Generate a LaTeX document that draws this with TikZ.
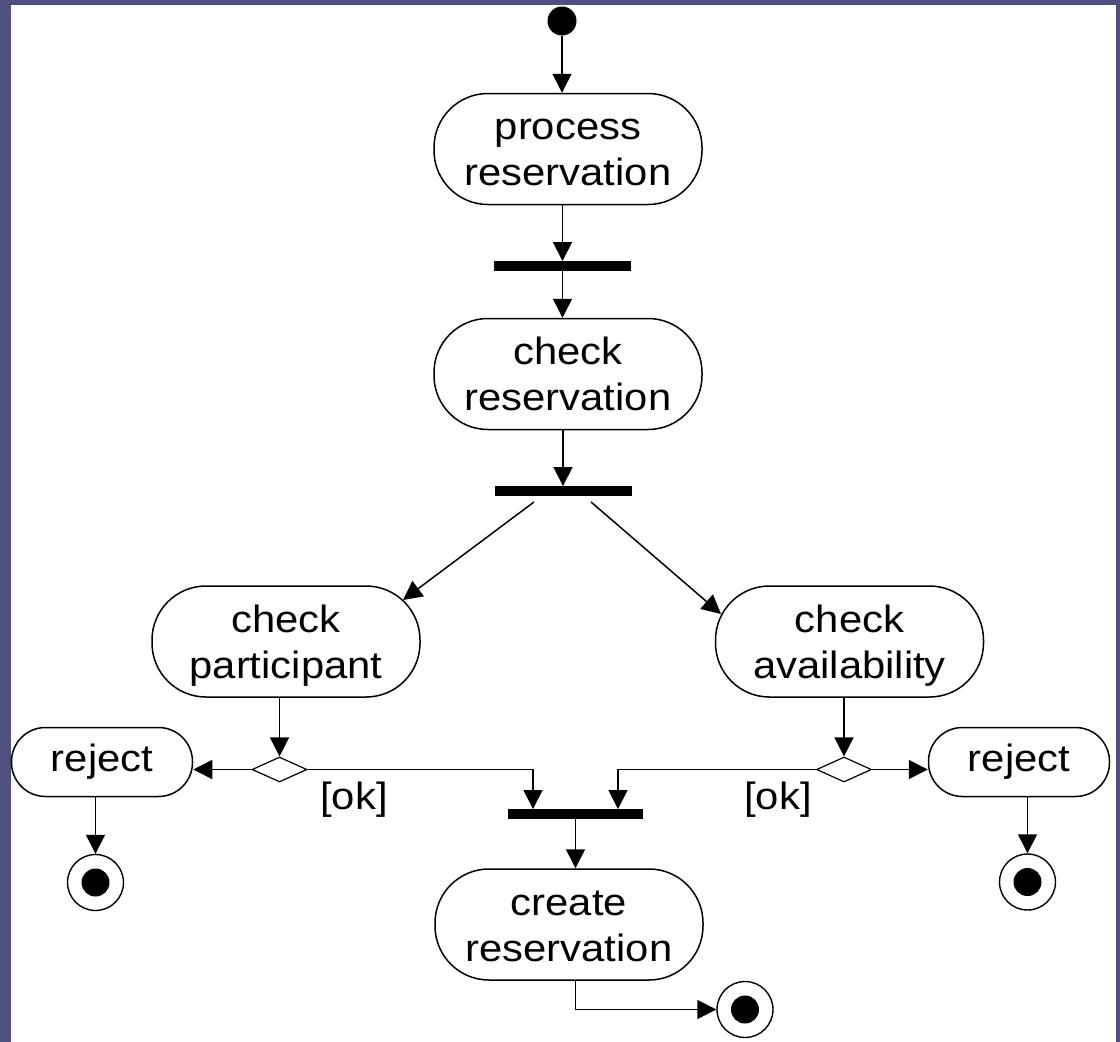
\documentclass[tikz,border=0pt]{standalone}
\usepackage{fontspec}
\setmainfont{Liberation Sans}[FakeStretch=1.1]
\usetikzlibrary{arrows.meta,shapes.geometric,calc}
\definecolor{slide}{HTML}{50507E}
% two centred lines, block lowered slightly inside the box
\newcommand\twolines[2]{\rule{0pt}{41pt}#1\\\strut #2}
\newcommand\lowered[1]{\raisebox{-3pt}{#1}}
\begin{document}
\begin{tikzpicture}[x=1pt,y=-1pt,
  txt/.style={font=\fontsize{38}{46}\selectfont},
  action/.style={txt, draw, line width=1.5pt, rounded corners=54pt,
    minimum width=268pt, minimum height=111pt, inner sep=0pt, align=center},
  smallaction/.style={txt, draw, line width=1.5pt, rounded corners=34pt,
    minimum width=181pt, minimum height=69pt, inner sep=0pt},
  syncbar/.style={fill=black, minimum width=137pt, minimum height=9.5pt, inner sep=0pt},
  choice/.style={draw, diamond, line width=1.2pt, minimum width=55pt,
    minimum height=25pt, inner sep=0pt},
  startnode/.style={circle, fill=black, minimum size=29pt, inner sep=0pt},
  endnode/.style={circle, draw, line width=1.4pt, minimum size=56pt, inner sep=0pt,
    path picture={\fill (path picture bounding box.center) circle (14pt);}},
  arr/.style={-{Triangle[length=19pt,width=19pt]}, line width=1.5pt},
  guard/.style={txt, inner sep=0pt}]

% slide frame and white page
\fill[slide] (0,0) rectangle (1120,1042);
\fill[white] (11,5) rectangle (1116,1042);
\useasboundingbox (0,0) rectangle (1120,1042);

% nodes
\node[startnode] (init) at (562,21) {};
\node[action] (proc) at (568,149) {\twolines{process}{reservation}};
\node[syncbar] (bar1) at (562.5,266) {};
\node[action] (chkres) at (568,374) {\twolines{check}{reservation}};
\node[syncbar] (bar2) at (563,491) {};
\node[action] (cpart) at (286,641.5) {\twolines{check}{participant}};
\node[action] (cavail) at (849.5,641.5) {\twolines{check}{availability}};
\node[choice] (dleft) at (279.5,769.5) {};
\node[choice] (dright) at (844,769.5) {};
\node[smallaction] (rejL) at (102,762) {\lowered{reject}};
\node[smallaction] (rejR) at (1019,762) {\lowered{reject}};
\node[endnode] (finL) at (95.5,882.5) {};
\node[endnode] (finR) at (1027.5,882) {};
\node[syncbar, minimum width=135pt] (bar3) at (575.5,814) {};
\node[action] (create) at (569,924.5) {\twolines{create}{reservation}};
\node[endnode] (fin3) at (745,1009.5) {};
\node[guard] (okL) at (354,800) {[ok]};
\node[guard] (okR) at (778,800) {[ok]};

% points where the fork arrows meet the rounded boxes
\coordinate (forkL) at ($(bar2.south)+(-29,6)$);
\coordinate (forkR) at ($(bar2.south)+(28,6)$);
\coordinate (hitL) at (403,600);
\coordinate (hitR) at (721,614);
\coordinate (joinL) at ($(bar3.north)+(-42.5,0)$);
\coordinate (joinR) at ($(bar3.north)+(42.5,0)$);

% connectors
\draw[arr] (init) -- (init |- proc.north);
\draw[arr] (bar1 |- proc.south) -- (bar1.north);
\draw[arr] (bar1.south) -- (bar1.south |- chkres.north);
\draw[arr] (bar2 |- chkres.south) -- (bar2.north);
\draw[arr] (forkL) -- (hitL);
\draw[arr] (forkR) -- (hitR);
\draw[arr] (dleft |- cpart.south) -- (dleft.north);
\draw[arr] (dright |- cavail.south) -- (dright.north);
\draw[arr] (dleft.west) -- (dleft.west -| rejL.east);
\draw[arr] (dright.east) -- (dright.east -| rejR.west);
\draw[arr] (finL |- rejL.south) -- (finL.north);
\draw[arr] (finR |- rejR.south) -- (finR.north);
\draw[arr] (dleft.east) -| (joinL);
\draw[arr] (dright.west) -| (joinR);
\draw[arr] (bar3.south) -- (bar3.south |- create.north);
\draw[arr] (bar3.south |- create.south) |- (fin3.west);
\end{tikzpicture}
\end{document}
